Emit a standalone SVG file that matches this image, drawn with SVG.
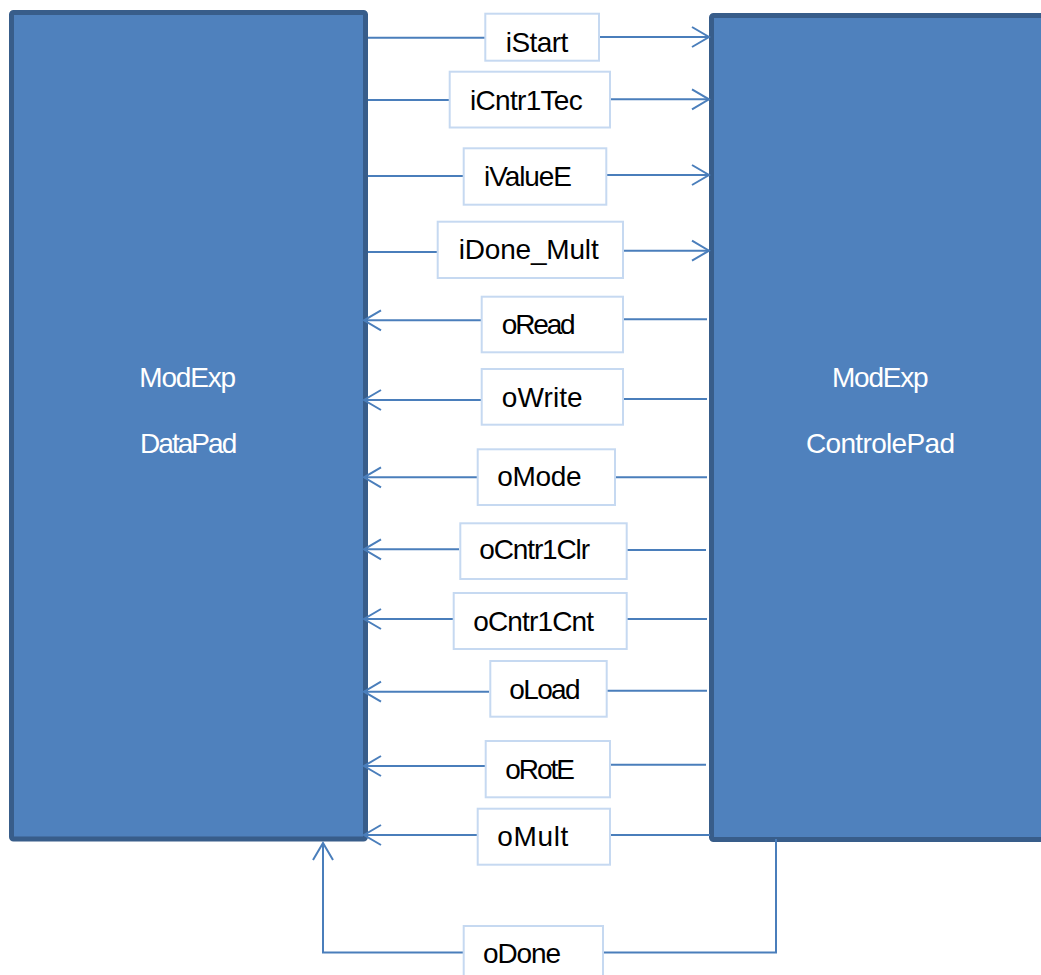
<svg xmlns="http://www.w3.org/2000/svg" width="1041" height="975" viewBox="0 0 1041 975">
  <style>
    .block { fill: #4f81bd; stroke: #385d8a; stroke-width: 5; }
    .block-text { font-family: "Liberation Sans", Arial, sans-serif; font-size: 28px; fill: #ffffff; }
    .sig { fill: #ffffff; stroke: #c6d9f1; stroke-width: 2; }
    .sig-text { font-family: "Liberation Sans", Arial, sans-serif; font-size: 28px; fill: #000000; }
    .wire { fill: none; stroke: #4a7ebb; stroke-width: 2; }
    .wire-arrow { fill: none; stroke: #4a7ebb; stroke-width: 2; marker-end: url(#open-arrow); }
  </style>
  <defs>
    <marker id="open-arrow" viewBox="-20 -12 23 24" markerWidth="23" markerHeight="24" refX="0" refY="0" orient="auto" markerUnits="userSpaceOnUse">
      <path d="M-17,-10 L0,0 L-17,10" fill="none" stroke="#4a7ebb" stroke-width="2"/>
    </marker>
  </defs>

  <rect width="1041" height="975" fill="#ffffff"/>

  <!-- Functional blocks -->
  <g id="datapad">
    <rect class="block" x="11.5" y="12.5" width="354" height="826.5" rx="2"/>
    <text class="block-text" x="139.3" y="386.7" textLength="96.7">ModExp</text>
    <text class="block-text" x="140" y="452.7" textLength="97.3">DataPad</text>
  </g>
  <g id="controlepad">
    <rect class="block" x="711.5" y="15.5" width="337" height="824" rx="2"/>
    <text class="block-text" x="832" y="386.7" textLength="96.7">ModExp</text>
    <text class="block-text" x="806" y="452.7" textLength="149">ControlePad</text>
  </g>

  <!-- Signal wires -->
  <g id="connectors">
    <!-- inputs: DataPad -> ControlePad -->
    <path class="wire" d="M368,37.7 H485"/>
    <path class="wire-arrow" d="M600,37 H709"/>
    <path class="wire" d="M368,100 H449"/>
    <path class="wire-arrow" d="M611,99.3 H709"/>
    <path class="wire" d="M368,176 H463"/>
    <path class="wire-arrow" d="M607,175 H709"/>
    <path class="wire" d="M368,252 H437"/>
    <path class="wire-arrow" d="M624,250.7 H709"/>
    <!-- outputs: ControlePad -> DataPad -->
    <path class="wire" d="M707,319.3 H624"/>
    <path class="wire-arrow" d="M481,320.3 H364"/>
    <path class="wire" d="M707,399 H624"/>
    <path class="wire-arrow" d="M481,400 H364"/>
    <path class="wire" d="M707,477.3 H616"/>
    <path class="wire-arrow" d="M477,477.3 H364"/>
    <path class="wire" d="M706,550 H627"/>
    <path class="wire-arrow" d="M459,549.3 H364"/>
    <path class="wire" d="M707,619 H627"/>
    <path class="wire-arrow" d="M453,619 H364"/>
    <path class="wire" d="M707,690.7 H607"/>
    <path class="wire-arrow" d="M489,691.7 H364"/>
    <path class="wire" d="M706,764.7 H611"/>
    <path class="wire-arrow" d="M485,766 H364"/>
    <path class="wire" d="M710,835 H611"/>
    <path class="wire-arrow" d="M477,835 H364"/>
    <!-- oDone loops under both blocks -->
    <path class="wire" d="M776,839 V952.5 H604"/>
    <path class="wire-arrow" d="M463,952.5 H323 V843"/>
  </g>

  <!-- Signal labels -->
  <g id="sig-iStart">
    <rect class="sig" x="485.3" y="13.7" width="113.7" height="47"/>
    <text class="sig-text" x="505.7" y="51.7" textLength="62.6">iStart</text>
  </g>
  <g id="sig-iCntr1Tec">
    <rect class="sig" x="449.7" y="71.7" width="160.3" height="55.8"/>
    <text class="sig-text" x="470" y="110" textLength="112.7">iCntr1Tec</text>
  </g>
  <g id="sig-iValueE">
    <rect class="sig" x="463.7" y="148.3" width="142.6" height="56.4"/>
    <text class="sig-text" x="484" y="186" textLength="88">iValueE</text>
  </g>
  <g id="sig-iDone_Mult">
    <rect class="sig" x="437.7" y="221.7" width="185.3" height="56.3"/>
    <text class="sig-text" x="458.7" y="259.3" textLength="140">iDone_Mult</text>
  </g>
  <g id="sig-oRead">
    <rect class="sig" x="481.7" y="296.7" width="141.3" height="55.6"/>
    <text class="sig-text" x="501.7" y="334.3" textLength="74">oRead</text>
  </g>
  <g id="sig-oWrite">
    <rect class="sig" x="481.7" y="369" width="141.3" height="55.7"/>
    <text class="sig-text" x="501.7" y="406.7" textLength="81">oWrite</text>
  </g>
  <g id="sig-oMode">
    <rect class="sig" x="477.7" y="449.3" width="137.3" height="55.7"/>
    <text class="sig-text" x="497.3" y="485.5" textLength="84.3">oMode</text>
  </g>
  <g id="sig-oCntr1Clr">
    <rect class="sig" x="460.3" y="523.3" width="166.4" height="55.7"/>
    <text class="sig-text" x="479.3" y="559.3" textLength="110.7">oCntr1Clr</text>
  </g>
  <g id="sig-oCntr1Cnt">
    <rect class="sig" x="453.7" y="593" width="173" height="56"/>
    <text class="sig-text" x="473.3" y="630.7" textLength="120.7">oCntr1Cnt</text>
  </g>
  <g id="sig-oLoad">
    <rect class="sig" x="490.3" y="661" width="116.4" height="55.7"/>
    <text class="sig-text" x="509.3" y="699" textLength="71.3">oLoad</text>
  </g>
  <g id="sig-oRotE">
    <rect class="sig" x="485.7" y="741" width="124.3" height="56.3"/>
    <text class="sig-text" x="505.3" y="779.3" textLength="69.7">oRotE</text>
  </g>
  <g id="sig-oMult">
    <rect class="sig" x="477.7" y="808.7" width="132.3" height="56"/>
    <text class="sig-text" x="497.3" y="846" textLength="71">oMult</text>
  </g>
  <g id="sig-oDone">
    <rect class="sig" x="463.7" y="926" width="139.3" height="60"/>
    <text class="sig-text" x="483" y="963.3" textLength="78">oDone</text>
  </g>
</svg>
